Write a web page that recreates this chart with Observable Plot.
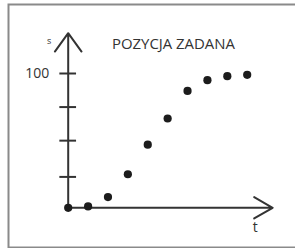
<!DOCTYPE html>
<html>
<head>
<meta charset="utf-8">
<script src="https://cdn.jsdelivr.net/npm/d3@7"></script>
<script src="https://cdn.jsdelivr.net/npm/@observablehq/plot@0.6"></script>
<style>
  html, body { margin: 0; padding: 0; background: #fff; overflow: hidden; }
  svg { max-width: none !important; }
</style>
</head>
<body>
<div id="chart"></div>
<script>
// Data
const tValues = [0, 1, 2, 3, 4, 5, 6, 7, 8, 9];
const sValues = [0, 1, 8, 25, 47, 66.5, 87, 95, 98, 99];
const yTicks = [23, 50, 75, 100];
const yTickLabels = ["100"];
const title = "POZYCJA ZADANA";
const xName = "t";
const yName = "s";

const points = tValues.map((t, i) => ({t, s: sValues[i]}));
const axes = [
  {x1: 0, y1: 0, x2: 0, y2: 130},
  {x1: 0, y1: 0, x2: 10.28, y2: 0}
];

const chart = Plot.plot({
  width: 300,
  height: 248,
  marginLeft: 8,
  marginRight: 0,
  marginTop: 4,
  marginBottom: 1,
  x: {domain: [0, 9], range: [67.7, 246.7], axis: null},
  y: {domain: [0, 100], range: [207.3, 73], axis: null},
  style: {fontFamily: "'Open Sans', sans-serif", background: "#fff"},
  marks: [
    Plot.frame({stroke: "#8a8a8a", strokeWidth: 2}),
    Plot.ruleY(yTicks, {x1: -0.42, x2: 0.42, stroke: "#333", strokeWidth: 2}),
    Plot.arrow(axes.slice(0, 1), {x1: "x1", y1: "y1", x2: "x2", y2: "y2", stroke: "#333", strokeWidth: 2, headLength: 17, headAngle: 72}),
    Plot.arrow(axes.slice(1), {x1: "x1", y1: "y1", x2: "x2", y2: "y2", stroke: "#333", strokeWidth: 2, headLength: 16, headAngle: 60}),
    Plot.dot(points, {x: "t", y: "s", r: 4.1, fill: "#1c1c1c"}),
    Plot.text(yTickLabels, {x: 0, y: 100, text: d => d, dx: -19, textAnchor: "end", fontSize: 14, fill: "#333"}),
    Plot.text([yName], {x: 0, y: 124, text: d => d, dx: -19, fontSize: 9, fill: "#333"}),
    Plot.text([xName], {x: 9.4, y: 0, text: d => d, dy: 20, fontSize: 14, fill: "#333"}),
    Plot.text([title], {x: 2.2, y: 122, text: d => d, textAnchor: "start", fontSize: 15, fill: "#333", className: "ttl"})
  ]
});
chart.style.maxWidth = "none";
document.getElementById("chart").appendChild(chart);
d3.select(chart).selectAll(".ttl text").attr("textLength", 123).attr("lengthAdjust", "spacingAndGlyphs");
</script>
</body>
</html>
